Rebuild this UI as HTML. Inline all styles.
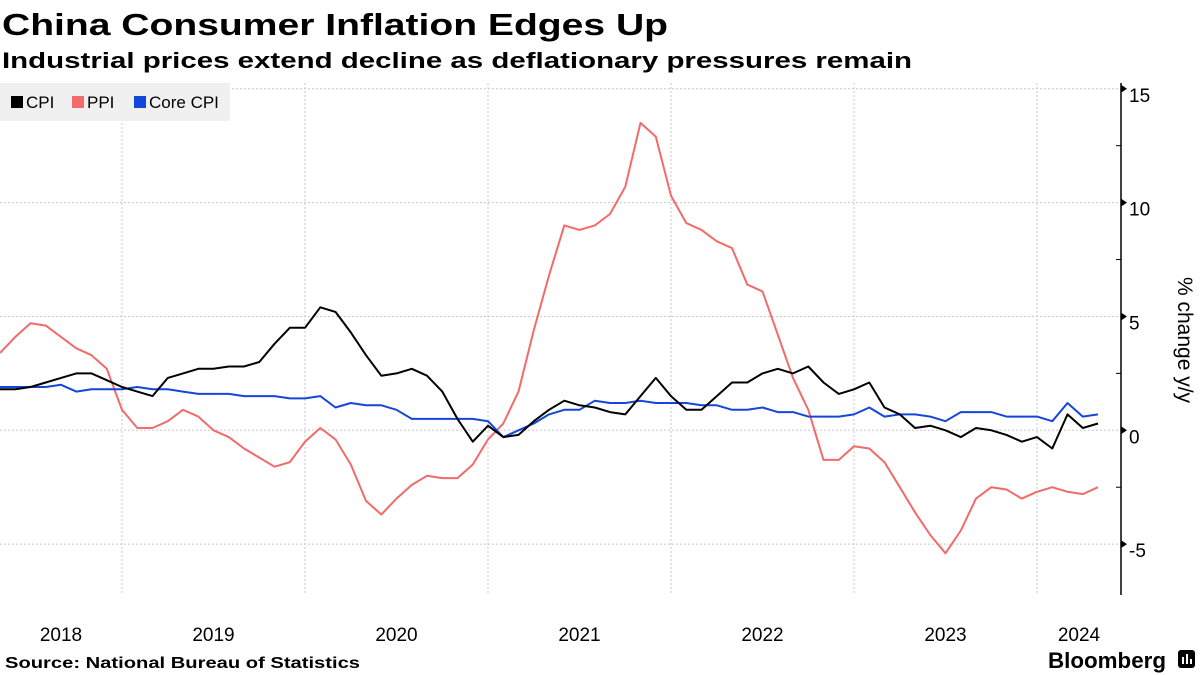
<!DOCTYPE html>
<html><head><meta charset="utf-8"><style>
body{margin:0;background:#fff;}
svg{display:block;font-family:"Liberation Sans","DejaVu Sans",sans-serif;}
</style></head><body>
<svg id="chart" width="1200" height="675" viewBox="0 0 1200 675">
<text x="2" y="35" font-size="31" font-weight="bold" textLength="666" lengthAdjust="spacingAndGlyphs">China Consumer Inflation Edges Up</text>
<text x="2" y="68" font-size="22" font-weight="bold" textLength="910" lengthAdjust="spacingAndGlyphs">Industrial prices extend decline as deflationary pressures remain</text>
<g id="grid"></g>
<g id="series"></g>
<g id="axis"></g>
<g>
<rect x="0" y="83" width="230" height="38" fill="#f0f0f0"/>
<g><rect x="11" y="96" width="12" height="12" fill="#000"/><text x="26" y="108" font-size="17">CPI</text></g>
<g><rect x="72" y="96" width="12" height="12" fill="#f26a6a"/><text x="87" y="108" font-size="17">PPI</text></g>
<g><rect x="134" y="96" width="12" height="12" fill="#1447d9"/><text x="149" y="108" font-size="17">Core CPI</text></g>
</g>
<text transform="translate(1178,340) rotate(90)" text-anchor="middle" font-size="21">% change y/y</text>
<text x="5" y="668" font-size="16" font-weight="bold" textLength="355" lengthAdjust="spacingAndGlyphs">Source: National Bureau of Statistics</text>
<text x="1048" y="668" font-size="22" font-weight="bold" textLength="118" lengthAdjust="spacingAndGlyphs">Bloomberg</text>
<g><rect x="1178" y="650" width="17" height="18" rx="3" fill="#000"/><rect x="1182" y="657" width="2" height="7" fill="#fff"/><rect x="1186" y="654" width="2" height="10" fill="#fff"/><rect x="1190" y="659" width="2" height="5" fill="#fff"/></g>
</svg>
<script>
const cpi=[1.8,1.8,1.9,2.1,2.3,2.5,2.5,2.2,1.9,1.7,1.5,2.3,2.5,2.7,2.7,2.8,2.8,3.0,3.8,4.5,4.5,5.4,5.2,4.3,3.3,2.4,2.5,2.7,2.4,1.7,0.5,-0.5,0.2,-0.3,-0.2,0.4,0.9,1.3,1.1,1.0,0.8,0.7,1.5,2.3,1.5,0.9,0.9,1.5,2.1,2.1,2.5,2.7,2.5,2.8,2.1,1.6,1.8,2.1,1.0,0.7,0.1,0.2,0.0,-0.3,0.1,0.0,-0.2,-0.5,-0.3,-0.8,0.7,0.1,0.3];
const ppi=[3.4,4.1,4.7,4.6,4.1,3.6,3.3,2.7,0.9,0.1,0.1,0.4,0.9,0.6,0.0,-0.3,-0.8,-1.2,-1.6,-1.4,-0.5,0.1,-0.4,-1.5,-3.1,-3.7,-3.0,-2.4,-2.0,-2.1,-2.1,-1.5,-0.4,0.3,1.7,4.4,6.8,9.0,8.8,9.0,9.5,10.7,13.5,12.9,10.3,9.1,8.8,8.3,8.0,6.4,6.1,4.2,2.3,0.9,-1.3,-1.3,-0.7,-0.8,-1.4,-2.5,-3.6,-4.6,-5.4,-4.4,-3.0,-2.5,-2.6,-3.0,-2.7,-2.5,-2.7,-2.8,-2.5];
const core=[1.9,1.9,1.9,1.9,2.0,1.7,1.8,1.8,1.8,1.9,1.8,1.8,1.7,1.6,1.6,1.6,1.5,1.5,1.5,1.4,1.4,1.5,1.0,1.2,1.1,1.1,0.9,0.5,0.5,0.5,0.5,0.5,0.4,-0.3,0.0,0.3,0.7,0.9,0.9,1.3,1.2,1.2,1.3,1.2,1.2,1.2,1.1,1.1,0.9,0.9,1.0,0.8,0.8,0.6,0.6,0.6,0.7,1.0,0.6,0.7,0.7,0.6,0.4,0.8,0.8,0.8,0.6,0.6,0.6,0.4,1.2,0.6,0.7];
const yTicks=[15,10,5,0,-5];
const years=["2018","2019","2020","2021","2022","2023","2024"];
const startMonth=3; // April 2018, months since Jan 2018
const NS="http://www.w3.org/2000/svg";
const X0=-61, YEARW=183, AXX=1121;
function xScale(m){return X0+(m+1)*YEARW/12;}
function yScale(v){return 430.3-v*22.77;}
function mk(tag,attrs,parent){const e=document.createElementNS(NS,tag);for(const k in attrs)e.setAttribute(k,attrs[k]);parent.appendChild(e);return e;}
const grid=document.getElementById('grid'),ser=document.getElementById('series'),ax=document.getElementById('axis');
yTicks.forEach(t=>{
 const y=yScale(t);
 const l=mk('line',{x1:0,x2:AXX,y1:y,y2:y,stroke:'#c8c8c8','stroke-dasharray':'2,2'},grid);
 
 
 const p=mk('path',{d:`M${AXX},${y-4}L${AXX+6},${y}L${AXX},${y+4}Z`,fill:'#000'},ax);
 
 
 const tx=mk('text',{x:AXX+8,y:y+13,'font-size':19},ax);
 tx.textContent=t;
 
 
});
for(let v=12.5;v>-7;v-=5){const y=yScale(v);const m=mk('line',{x1:AXX-5,x2:AXX,y1:y,y2:y,stroke:'#000'},ax);
 
 }
const axl=mk('line',{x1:AXX,x2:AXX,y1:83,y2:595,stroke:'#000','stroke-width':1.5},ax);


years.forEach((yr,i)=>{
 const xs=X0+i*YEARW, xe=xs+YEARW;
 if(i>0){const g=mk('line',{x1:xs,x2:xs,y1:83,y2:595,stroke:'#c8c8c8','stroke-dasharray':'2,2'},grid);
  
  }
 const a=Math.max(xs,0),b=Math.min(xe,AXX);
 const t=mk('text',{x:(a+b)/2,y:641,'text-anchor':'middle','font-size':19},grid);
 t.textContent=yr;
 
 
});
function line(data,color,name){
 const d=data.map((v,i)=>(i?'L':'M')+xScale(startMonth+i).toFixed(1)+','+yScale(v).toFixed(1)).join('');
 const p=mk('path',{d:d,fill:'none',stroke:color,'stroke-width':2,'stroke-linejoin':'round'},ser);
 
 
}
line(ppi,'#f26a6a','ppi-line');
line(core,'#1447d9','core-cpi-line');
line(cpi,'#000000','cpi-line');
</script>
</body></html>
